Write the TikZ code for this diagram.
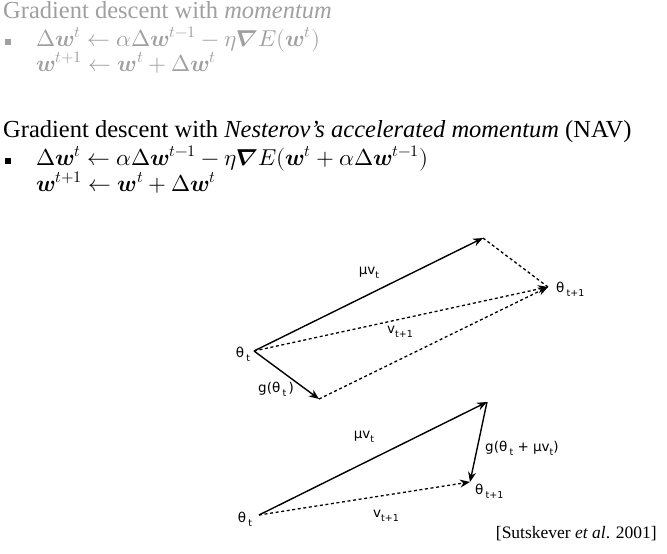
\documentclass[tikz,border=0pt]{standalone}
\usepackage{amsmath}
\usepackage{fontspec}
\usepackage{unicode-math}
\setmainfont{Liberation Serif}
\setmathfont{Latin Modern Math}
\newfontfamily\labfont{DejaVu Sans}
\usetikzlibrary{arrows.meta}
\definecolor{txtgray}{RGB}{160,160,160}
\newcommand\lsub[1]{\raisebox{-0.55ex}{\fontsize{9.5}{9.5}\selectfont #1}}
\newcommand\bw{\symbfit{w}}
\tikzset{
  vec/.style={line width=1.4pt,-{Stealth[length=10pt,width=8pt]}},
  dvec/.style={line width=1.3pt,dash pattern=on 3pt off 2.6pt,-{Stealth[length=10pt,width=8pt]}},
  dline/.style={line width=1.3pt,dash pattern=on 3pt off 2.6pt},
  lbl/.style={font=\labfont\fontsize{13.5}{15}\selectfont,inner sep=0pt},
  titletext/.style={font=\fontsize{24.5}{28}\selectfont,anchor=base west,inner sep=0pt},
  formula/.style={font=\fontsize{23}{26}\selectfont,anchor=base west,inner sep=0pt},
  bulletbox/.style={fill,minimum size=6pt,inner sep=0pt}
}
\begin{document}
\begin{tikzpicture}[x=1pt,y=-1pt]
\useasboundingbox (0,0) rectangle (667,554);
% --- momentum (gray) ---
\begin{scope}[txtgray]
\node[titletext] (t1) at (3,19) {Gradient descent with \textit{momentum}};
\node[bulletbox] (b1) at (8,42) {};
\node[formula] (f1) at (36,46) {$\Delta\bw^{t}\leftarrow\alpha\Delta\bw^{t-1}-\eta\symbfit{\nabla}E(\bw^{t})$};
\node[formula] (f2) at (36,71) {$\bw^{t+1}\leftarrow\bw^{t}+\Delta\bw^{t}$};
\end{scope}
% --- Nesterov (black) ---
\node[titletext] (t2) at (3,137) {Gradient descent with \textit{Nesterov's accelerated momentum} (NAV)};
\node[bulletbox] (b2) at (8,161) {};
\node[formula] (f3) at (36,165) {$\Delta\bw^{t}\leftarrow\alpha\Delta\bw^{t-1}-\eta\symbfit{\nabla}E(\bw^{t}+\alpha\Delta\bw^{t-1})$};
\node[formula] (f4) at (36,191) {$\bw^{t+1}\leftarrow\bw^{t}+\Delta\bw^{t}$};
% --- upper diagram ---
\coordinate (A) at (254,351);
\coordinate (B) at (483,238);
\coordinate (C) at (548,287);
\coordinate (D) at (319,399);
\draw[vec] (A) -- (B);
\draw[vec] (A) -- (D);
\draw[dline] (B) -- (C);
\draw[dvec] (A) -- (C);
\draw[dvec] (D) -- (C);
\node[lbl] (la) at (243,354) {θ\,\lsub{t}};
\node[lbl] (lmu) at (369,273) {μv\lsub{t}};
\node[lbl] (lv) at (400,332) {v\lsub{t+1}};
\node[lbl,anchor=west] (lc) at (556,289) {θ\,\lsub{t+1}};
\node[lbl] (lg) at (276,389) {g(θ\,\lsub{t}\,)};
% --- lower diagram ---
\coordinate (E) at (259,515);
\coordinate (F) at (487,402);
\coordinate (G) at (470,482);
\draw[vec] (E) -- (F);
\draw[vec] (F) -- (G);
\draw[dvec] (E) -- (G);
\node[lbl] (le) at (245,519) {θ\,\lsub{t}};
\node[lbl] (lmu2) at (364,437) {μv\lsub{t}};
\node[lbl] (lv2) at (386,516) {v\lsub{t+1}};
\node[lbl,anchor=west] (lg2) at (475,491) {θ\,\lsub{t+1}};
\node[lbl,anchor=west] (lgg) at (485,448) {g(θ\,\lsub{t} + μv\lsub{t})};
% --- citation ---
\node[font=\fontsize{17.5}{20}\selectfont,anchor=base east,inner sep=0pt] (cite) at (657,538) {[Sutskever \textit{et al}. 2001]};
\end{tikzpicture}
\end{document}
